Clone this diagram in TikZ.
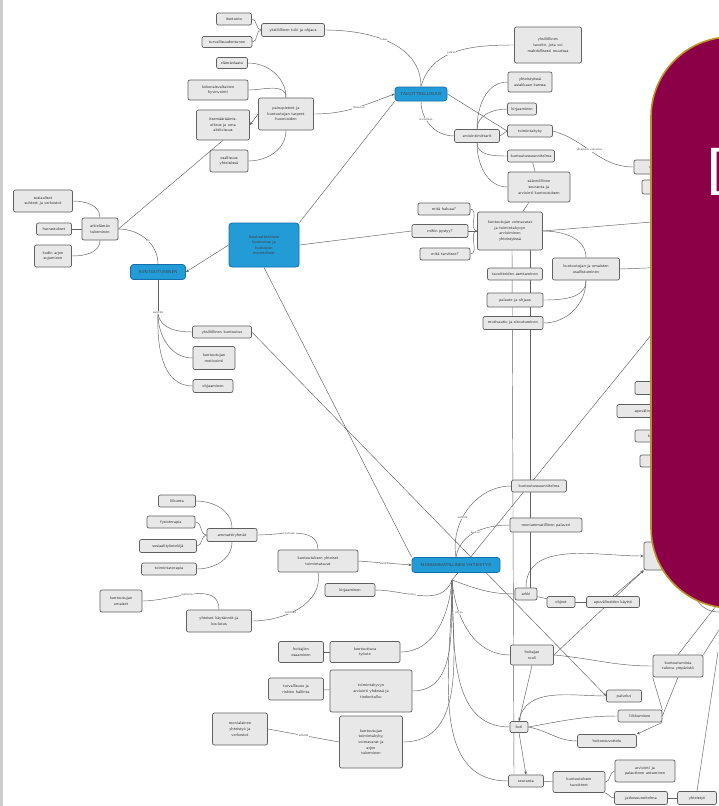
\documentclass[tikz,border=0pt]{standalone}
\usetikzlibrary{arrows.meta,calc}
\definecolor{maroon}{RGB}{139,0,70}
\definecolor{gold}{RGB}{190,145,40}
\definecolor{blu}{RGB}{35,155,215}
\definecolor{bludk}{RGB}{20,110,170}
\pgfdeclarelayer{bg}
\pgfdeclarelayer{fg}
\pgfsetlayers{bg,main,fg}
\tikzset{
  bx/.style={draw=gray!75!black, line width=0.7pt, fill=gray!18, rounded corners=2pt, align=center,
    font=\fontsize{4.2}{5.6}\selectfont\sffamily, inner sep=0.6pt, text=black!80},
  bl/.style={draw=bludk, line width=0.8pt, fill=blu, rounded corners=3pt, align=center,
    font=\fontsize{4.2}{5.6}\selectfont\sffamily, inner sep=0.6pt, text=black!75},
  ln/.style={draw=gray!75!black, line width=0.45pt},
  ar/.style={ln, -{Stealth[length=3.2pt,width=2.6pt]}},
  lbl/.style={font=\fontsize{3}{3}\selectfont\sffamily, fill=white, inner sep=0.4pt, text=gray!60!black},
}
\newcommand{\cbox}[6]{\node[bx,minimum width=#4,minimum height=#5] (#1) at (#2,#3) {#6};}
\newcommand{\bbox}[6]{\node[bl,minimum width=#4,minimum height=#5] (#1) at (#2,#3) {#6};}
\begin{document}
\begin{tikzpicture}[x=1pt,y=-1pt]
\useasboundingbox (0,0) rectangle (719,806);
\begin{pgfonlayer}{bg}
\fill[white] (0,0) rectangle (719,806);
\fill[gray!40] (0,0) rectangle (3,806);
\end{pgfonlayer}

% ---------- blue nodes
\bbox{B1}{158}{272}{55}{15}{KUNTOUTUMINEN}
\bbox{B2}{264}{245}{70}{44}{Asiakaslähtöinen\\kuntoutus ja\\hoitotyön\\menetelmät}
\bbox{B3}{421}{94}{52}{14}{TAVOITTEELLISUUS}
\bbox{B4}{456}{565}{88}{15}{MONIAMMATILLINEN YHTEISTYÖ}

% ---------- top-left cluster
\cbox{n1}{234}{19}{35}{12}{itsetunto}
\cbox{n2}{293}{30}{63}{13}{yksilöllinen tuki ja ohjaus}
\cbox{n3}{227}{42}{50}{11}{turvallisuudentunne}
\cbox{n4}{232}{63}{31}{11}{elämänlaatu}
\cbox{n5}{218}{90}{60}{20}{kokonaisvaltainen\\hyvinvointi}
\cbox{n6}{223}{125}{53}{30}{itsemääräämis-\\oikeus ja oma\\aktiivisuus}
\cbox{n7}{286}{114}{55}{32}{painopisteet ja\\kuntoutujan tarpeet\\huomioiden}
\cbox{n8}{229}{161}{38}{22}{osallisuus\\yhteisössä}
\cbox{L1}{43}{201}{59}{22}{sosiaaliset\\suhteet ja verkostot}
\cbox{L2}{54}{229}{35}{12}{harrastukset}
\cbox{L3}{53}{256}{37}{22}{kodin arjen\\sujuminen}
\cbox{L4}{100}{229}{36}{22}{arkielämän\\tukeminen}
\cbox{M16}{222}{332}{59}{12}{yksilöllinen kuntoutus}
\cbox{M17}{214}{358}{42}{23}{kuntoutujan\\motivointi}
\cbox{M18}{213}{386}{40}{13}{ohjaaminen}

% ---------- top-right cluster
\cbox{T1}{548}{45}{67}{36}{yksilöllinen\\tavoite, jota voi\\mahdollisesti muuttaa}
\cbox{T2}{530}{82}{44}{20}{yhteistyössä\\asiakkaan kanssa}
\cbox{T3}{522}{109}{29}{12}{kirjaaminen}
\cbox{T4}{477}{136}{45}{13}{arviointimittarit}
\cbox{T5}{530}{131}{45}{12}{toimintakyky}
\cbox{T6}{531}{156}{47}{12}{kuntoutussuunnitelma}
\cbox{T7}{539}{187}{62}{30}{säännöllinen\\seuranta ja\\arviointi kuntoutuksen}
\cbox{T8}{444}{209}{52}{12}{mitä haluaa?}
\cbox{T9}{440}{231}{56}{13}{mihin pystyy?}
\cbox{T10}{445}{254}{50}{12}{mitä tarvitsee?}
\cbox{T11}{510}{231}{65}{38}{kuntoutujan voimavarat\\ja toimintakyvyn\\arvioiminen\\yhteistyössä}
\cbox{T12}{515}{274}{55}{12}{tavoitteiden asettaminen}
\cbox{T13}{586}{269}{67}{22}{kuntoutujan ja omaisten\\osallistuminen}
\cbox{T14}{515}{300}{56}{14}{palaute ja ohjaus}
\cbox{T15}{513}{323}{60}{13}{motivaatio ja sitoutuminen}
\cbox{R1}{655}{167}{42}{14}{ohjaus}
\cbox{R2}{662}{187}{40}{14}{neuvonta}
\cbox{R3}{658}{388}{46}{13}{palvelut}
\cbox{R4}{645}{411}{56}{13}{apuvälineet}
\cbox{R5}{658}{436}{46}{12}{kotikäynnit}
\cbox{R6}{662}{461}{44}{12}{seuranta}

% ---------- bottom-left cluster
\cbox{M1}{177}{501}{37}{12}{liikunta}
\cbox{M2}{171}{522}{48}{12}{fysioterapia}
\cbox{M3}{232}{535}{50}{13}{ammattiryhmät}
\cbox{M4}{168}{546}{57}{13}{sosiaalityöntekijä}
\cbox{M5}{169}{569}{55}{12}{toimintaterapia}
\cbox{M6}{318}{561}{80}{22}{kuntoutuksen yhteiset\\toimintatavat}
\cbox{M7}{350}{590}{50}{13}{kirjaaminen}
\cbox{M8}{121}{601}{42}{22}{kuntoutujan\\omaiset}
\cbox{M9}{219}{621}{65}{22}{yhteiset käytännöt ja\\koulutus}
\cbox{M10}{301}{652}{45}{21}{hoitajien\\osaaminen}
\cbox{M11}{365}{652}{70}{21}{kuntouttava\\työote}
\cbox{M12}{296}{689}{55}{22}{turvallisuus ja\\riskien hallinta}
\cbox{M13}{371}{691}{82}{42}{toimintakyvyn\\arviointi yhdessä ja\\tiedonkulku}
\cbox{M14}{240}{729}{55}{32}{monialainen\\yhteistyö ja\\verkostot}
\cbox{M15}{371}{742}{63}{52}{kuntoutujan\\toimintakyky,\\voimavarat ja\\arjen\\tukeminen}

% ---------- bottom-right cluster
\cbox{C1}{539}{486}{55}{12}{kuntoutussuunnitelma}
\cbox{C2}{546}{525}{72}{14}{moniammatillinen palaveri}
\cbox{C3}{526}{594}{22}{12}{arkki}
\cbox{C4}{561}{602}{28}{11}{ohjeet}
\cbox{C5}{613}{602}{53}{11}{apuvälineiden käyttö}
\cbox{C6}{662}{556}{36}{28}{terveys\\ja\\hoito}
\cbox{C7}{532}{655}{43}{20}{hoitajan\\rooli}
\cbox{C8}{678}{666}{50}{22}{kuntoutumista\\tukeva ympäristö}
\cbox{C9}{624}{696}{35}{12}{palvelut}
\cbox{C10}{640}{716}{44}{12}{liikkuminen}
\cbox{C11}{519}{727}{18}{11}{koti}
\cbox{C12}{607}{741}{59}{13}{hoitoneuvottelu}
\cbox{C13}{526}{781}{35}{12}{seuranta}
\cbox{C14}{579}{782}{52}{21}{kuntoutuksen\\tavoitteet}
\cbox{C15}{645}{771}{60}{22}{arviointi ja\\palautteen antaminen}
\cbox{C16}{641}{798}{53}{13}{jatkosuunnitelma}
\cbox{C17}{697}{798}{39}{13}{yhteistyö}

% ---------- free ends
\coordinate (hub) at (452,580);
\coordinate (b1j) at (158,314);
\coordinate (re1) at (700,218);
\coordinate (re2) at (700,266);
\coordinate (re3) at (665,318);
\coordinate (re4) at (718,652);
\coordinate (re5) at (716,606);
\coordinate (re6) at (719,630);
\coordinate (re7) at (719,612);

\begin{pgfonlayer}{bg}
% top-left
\draw[ln] (n1.east) to[out=0,in=180] (n2.west);
\draw[ln] (n3.east) to[out=0,in=180] (n2.west);
\draw[ln] (n2.east) to[out=0,in=90] node[lbl,pos=0.45]{tukee} (B3.north);
\draw[ln] (B3.north) to[out=75,in=180] node[lbl,pos=0.45]{jatkaa} (T1.west);
\draw[ln] (B3.south) to[out=-90,in=180] node[lbl,pos=0.35]{arvioidaan} (T4.west);
\draw[ar] (n7.east) to[out=0,in=200] node[lbl,pos=0.55]{tukeutuu} (B3.west);
\draw[ln] (B2.north east) -- (B3.south west);
\draw[ln] (B3.east) -- (T5.west);
\draw[ln] (n4.east) to[out=0,in=90] (n7.north);
\draw[ln] (n5.east) to[out=0,in=90] (n7.north);
\draw[ar] (n7.west) -- (n6.east);
\draw[ln] (n8.east) to[out=0,in=-90] (n7.south);
\draw[ln] (n6.south) -- (L4.east);
\draw[ln] (L1.east) to[out=0,in=90] (L4.north);
\draw[ln] (L2.east) -- (L4.west);
\draw[ln] (L3.east) to[out=0,in=-90] (L4.south);
\draw[ln] (L4.east) to[out=0,in=90] node[lbl,pos=0.55]{on} (B1.north);
\draw[ar] (B2.west) -- (B1.east);
\draw[ln] (B1.south) -- node[lbl,pos=0.95]{sisältää} (b1j);
\draw[ln] (b1j) to[out=-80,in=180] (M16.west);
\draw[ln] (b1j) to[out=-90,in=180] (M17.west);
\draw[ln] (b1j) to[out=-92,in=180] (M18.west);
\draw[ar] (M16.east) -- (C9.west);
\draw[ln] (B2.south) -- (B4.north west);
\draw[ln] (re3) -- (hub);
% top-right
\draw[ln] (T4.north) to[out=90,in=180] (T2.west);
\draw[ln] (T4.north) to[out=90,in=180] (T3.west);
\draw[ln] (T4.east) -- (T5.west);
\draw[ln] (T4.south) to[out=-90,in=180] (T6.west);
\draw[ln] (T4.south) to[out=-90,in=180] (T7.west);
\draw[ln] (T5.east) to[out=-15,in=180] node[lbl,pos=0.45]{yhteyksiä vahvistaa} (R1.west);
\draw[ln] (T6) -- (T7);
\draw[ln] (T7) -- (T11);
\draw[ln] (T11.west) to[out=180,in=0] (T8.east);
\draw[ln] (T11.west) -- (T9.east);
\draw[ln] (T11.west) to[out=180,in=0] (T10.east);
\draw[ln] (B2.east) -- (T9.west);
\draw[ln] (T11.east) -- (re1);
\draw[ln] (T11.east) to[out=0,in=90] (T13.north);
\draw[ln] (T13.east) -- (re2);
\draw[ln] (T13.south) to[out=-90,in=0] (T14.east);
\draw[ln] (T13.south) to[out=-90,in=0] (T15.east);
\draw[ln] ($(T11.south)+(2,0)$) -- ($(C13.north)+(-12,0)$);
\draw[ln] ($(T11.south)+(20,0)$) -- ($(C3.north)+(4,0)$);
% bottom-left
\draw[ln] (M1.east) to[out=0,in=90] (M3.north);
\draw[ln] (M2.east) to[out=0,in=180] (M3.west);
\draw[ln] (M4.east) to[out=0,in=180] (M3.west);
\draw[ln] (M5.east) to[out=0,in=-90] (M3.south);
\draw[ln] (M3.east) to[out=0,in=90] node[lbl,pos=0.4]{tarvitaan} (M6.north);
\draw[ln] (M6.south) to[out=-80,in=0] node[lbl,pos=0.6]{kehittää} (M9.east);
\draw[ln] (M8.east) to[out=0,in=90] node[lbl,pos=0.45]{osallistuu} (M9.north);
\draw[ln] (M10) -- (M11);
\draw[ln] (M12) -- (M13);
\draw[ln] (M14.east) -- node[lbl]{edistää} (M15.west);
\draw[ar] (M6.east) -- node[lbl]{sisältää} (B4.west);
\draw[ln] (M7.east) to[out=0,in=-110] node[lbl,pos=0.4]{liittyy} (hub);
\draw[ln] (hub) to[out=-95,in=0] (M11.east);
\draw[ln] (hub) to[out=-92,in=0] (M13.east);
\draw[ln] (hub) to[out=-90,in=0] (M15.east);
% bottom-right
\draw[ln] (B4.north) to[out=100,in=180] node[lbl,pos=0.4]{sisältää} (C1.west);
\draw[ln] (B4.north) to[out=80,in=180] node[lbl,pos=0.5]{kuuluu} (C2.west);
\draw[ln] (hub) to[out=-20,in=180] (C3.west);
\draw[ln] (hub) to[out=-85,in=180] node[lbl,pos=0.3]{ohjaa} (C7.west);
\draw[ln] (hub) to[out=-88,in=180] (C11.west);
\draw[ln] (hub) to[out=-90,in=180] (C13.west);
\draw[ln] (C3) -- (C4);
\draw[ln] (C4) -- (C5);
\draw[ar] (C3.north) to[out=90,in=180] (C6.west);
\draw[ar] (C5.north) -- (C6.south west);
\draw[ar] (C7.east) -- (C6.south west);
\draw[ln] (C7.east) to[out=-5,in=180] (C8.west);
\draw[ar] (C7.south) -- (C11.north);
\draw[ln] (C11.north) to[out=80,in=180] (C9.west);
\draw[ln] (C11.east) to[out=10,in=180] (C10.west);
\draw[ln] (C11.east) to[out=-10,in=180] (C12.west);
\draw[ar] (C11.south) -- (C13.north);
\draw[ar] (C10.south east) -- (C12.north east);
\draw[ln] (C10.north east) -- (C8.south west);
\draw[ln] (C10.east) -- (C8.south);
\draw[ln] (C13) -- (C14);
\draw[ln] (C14.east) to[out=0,in=180] (C15.west);
\draw[ln] (C14.south east) to[out=-20,in=180] (C16.west);
\draw[ln] (C16) -- (C17);
\draw[ln] (C17.north) -- (re4);
\draw[ln] (C8.north) -- (re5);
\draw[ln] (C8.north east) -- (re6);
\draw[ln] (C6.east) to[out=-70,in=180] (re7);
\end{pgfonlayer}

% ---------- overlay panel
\begin{pgfonlayer}{fg}
\draw[fill=maroon, draw=gold, line width=1.6pt, rounded corners=80pt] (651,37) rectangle (820,608);
\node[text=white, font=\fontsize{68}{68}\selectfont\sffamily, anchor=base west, inner sep=0pt] (dtxt) at (705,195) {D};
\end{pgfonlayer}
\end{tikzpicture}
\end{document}
